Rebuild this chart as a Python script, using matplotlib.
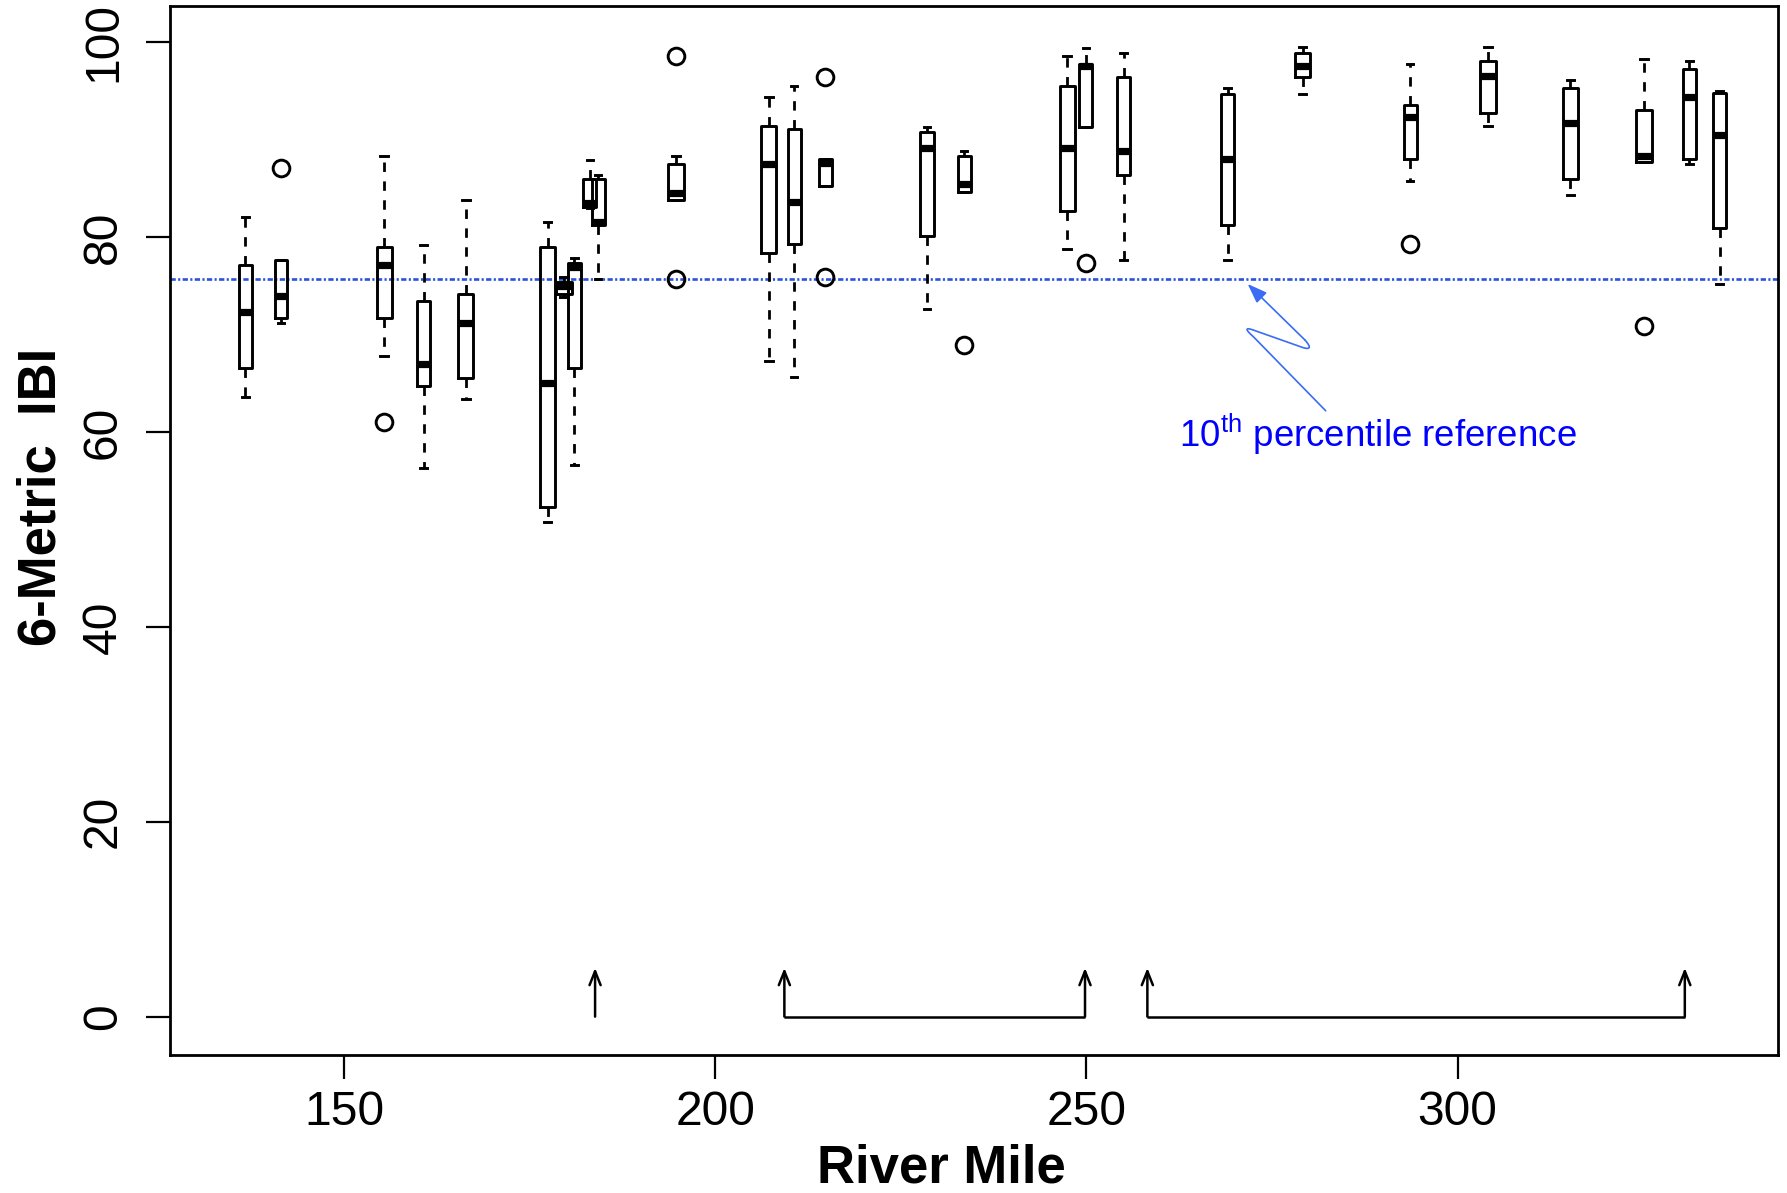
import numpy as np
import matplotlib
matplotlib.use("Agg")
import matplotlib.pyplot as plt

plt.rcParams['font.family'] = ['Liberation Sans', 'DejaVu Sans']
plt.rcParams['mathtext.fontset'] = 'custom'
plt.rcParams['mathtext.rm'] = 'Liberation Sans'

# ---------------- data ----------------
miles = [136.7, 141.5, 155.4, 160.7, 166.4, 177.4, 179.6, 181.0, 183.1, 184.2,
         194.7, 207.2, 210.6, 214.8, 228.5, 233.5, 247.4, 249.9, 255.0, 269.0,
         279.1, 293.6, 304.1, 315.2, 325.1, 331.2, 335.3]
whislo = [63.6, 71.2, 67.8, 56.3, 63.4, 50.8, 73.9, 56.6, 83.0, 75.7,
          83.8, 67.3, 65.6, 85.2, 72.6, 84.6, 78.8, 91.3, 77.7, 77.7,
          94.7, 85.8, 91.4, 84.3, 87.7, 87.5, 75.2]
q1 = [66.6, 71.7, 71.7, 64.7, 65.5, 52.3, 74.2, 66.6, 83.1, 81.2,
      83.8, 78.4, 79.3, 85.2, 80.1, 84.6, 82.7, 91.3, 86.4, 81.2,
      96.4, 88.0, 92.7, 86.0, 87.7, 88.0, 80.9]
med = [72.3, 74.0, 77.1, 67.0, 71.2, 65.0, 75.0, 76.9, 83.5, 81.6,
       84.5, 87.5, 83.6, 87.6, 89.1, 85.4, 89.1, 97.6, 88.8, 88.0,
       97.6, 92.3, 96.5, 91.7, 88.3, 94.4, 90.5]
q3 = [77.1, 77.7, 79.0, 73.4, 74.2, 79.0, 75.4, 77.3, 86.0, 86.0,
      87.5, 91.4, 91.1, 88.0, 90.8, 88.3, 95.5, 97.8, 96.4, 94.7,
      98.9, 93.6, 98.1, 95.3, 93.0, 97.3, 94.8]
whishi = [82.1, 77.7, 88.3, 79.2, 83.8, 81.6, 75.9, 77.9, 87.9, 86.4,
          88.3, 94.4, 95.5, 88.0, 91.3, 88.8, 98.6, 99.4, 98.9, 95.3,
          99.5, 97.8, 99.5, 96.1, 98.3, 98.1, 95.0]
fliers = [[], [87.1], [61.0], [], [], [], [], [], [], [],
          [98.6, 75.7], [], [], [96.4, 75.9], [], [68.9], [], [77.3], [], [],
          [], [79.3], [], [], [70.9], [], []]
box_widths = [1.75, 1.7, 2.05, 1.75, 2.0, 2.05, 2.05, 1.75, 1.75, 1.75,
              2.05, 2.05, 1.75, 1.8, 1.8, 1.75, 2.0, 1.75, 1.75, 1.75,
              2.05, 1.75, 2.1, 2.05, 2.05, 1.75, 1.75]

ref_value = 75.7
single_arrow = [183.8]
bracket_ranges = [(209.3, 249.8), (258.2, 330.6)]
arrow_height = 5.0

x_ticks = [150, 200, 250, 300]
y_ticks = [0, 20, 40, 60, 80, 100]

# ---------------- figure ----------------
W, H = 1787, 1193
fig = plt.figure(figsize=(W / 200, H / 200), dpi=200)
L, R, T, B = 169.8, 1777.9, 5.7, 1055.4
ax = fig.add_axes([L / W, (H - B) / H, (R - L) / W, (B - T) / H])

stats = []
for i in range(len(miles)):
    stats.append(dict(med=med[i], q1=q1[i], q3=q3[i], whislo=whislo[i],
                      whishi=whishi[i], fliers=fliers[i]))

ax.bxp(stats, positions=miles, widths=box_widths,
       capwidths=[w * 0.5 for w in box_widths],
       showfliers=True, manage_ticks=False, patch_artist=False,
       boxprops=dict(color='black', linewidth=1.05),
       whiskerprops=dict(color='black', linewidth=1.0, linestyle=(0, (3.4, 3.4))),
       capprops=dict(color='black', linewidth=1.05),
       medianprops=dict(color='black', linewidth=2.6, solid_capstyle='butt'),
       flierprops=dict(marker='o', markerfacecolor='none', markeredgecolor='black',
                       markersize=6.0, markeredgewidth=1.05, linestyle='none'))

# reference line
ax.axhline(ref_value, color='#2a52dc', linewidth=0.95,
           linestyle=(0, (2.0, 0.9, 0.8, 0.9)), zorder=1)

# squiggle arrow to the reference line
def quad(p, c, q, n=30):
    t = np.linspace(0, 1, n)[:, None]
    p, c, q = np.array(p), np.array(c), np.array(q)
    return (1 - t) ** 2 * p + 2 * (1 - t) * t * c + t ** 2 * q

P0 = (282.22, 62.18)
P1 = (272.48, 69.78)
C1 = (270.68, 70.98)
P2 = (272.70, 70.40)
P3 = (279.21, 68.65)
C2 = (280.69, 68.34)
P4 = (279.43, 69.44)
TIP = (271.71, 75.19)
pts = np.vstack([np.array([P0]), quad(P1, C1, P2), quad(P3, C2, P4)])
sq_color = '#3a6cf4'
ax.plot(pts[:, 0], pts[:, 1], color=sq_color, linewidth=0.6, solid_capstyle='round')
ax.annotate('', xy=TIP, xytext=P4,
            arrowprops=dict(arrowstyle='-|>,head_length=0.6,head_width=0.22',
                            color=sq_color, lw=0.6, shrinkA=0, shrinkB=0))
ax.text(262.5, 58.5, '10$^{\\rm th}$ percentile reference', color='#0000ff',
        fontsize=13.2, ha='left', va='baseline')

# bottom arrows / brackets
arr = dict(arrowstyle='->,head_length=0.5,head_width=0.2', color='black', lw=0.9,
           shrinkA=0, shrinkB=0)
for x in single_arrow:
    ax.annotate('', xy=(x, arrow_height), xytext=(x, 0), arrowprops=arr)
for l, r in bracket_ranges:
    ax.plot([l, r], [0, 0], color='black', lw=0.9, solid_capstyle='butt')
    for x in (l, r):
        ax.annotate('', xy=(x, arrow_height), xytext=(x, 0), arrowprops=arr)

# axes
ax.set_xlim(126.51, 343.14)
ax.set_ylim(-3.98, 103.75)
ax.set_xticks(x_ticks)
ax.set_yticks(y_ticks)
ax.set_xticklabels([str(v) for v in x_ticks])
ax.set_yticklabels([str(v) for v in y_ticks])
for s in ax.spines.values():
    s.set_linewidth(1.0)
ax.tick_params(axis='both', length=8.5, width=0.8, labelsize=17.3, direction='out')
ax.tick_params(axis='x', pad=3.8)
ax.tick_params(axis='y', pad=7.3)
for lbl in ax.get_yticklabels():
    lbl.set_rotation(90)
    lbl.set_va('center')

ax.set_xlabel('River Mile', fontsize=19, fontweight='bold')
ax.xaxis.set_label_coords(0.4795, -0.0835)
ax.set_ylabel('6-Metric  IBI', fontsize=19, fontweight='bold')
ax.yaxis.set_label_coords(-0.0645, 0.532)

fig.savefig('out.png', dpi=200)
